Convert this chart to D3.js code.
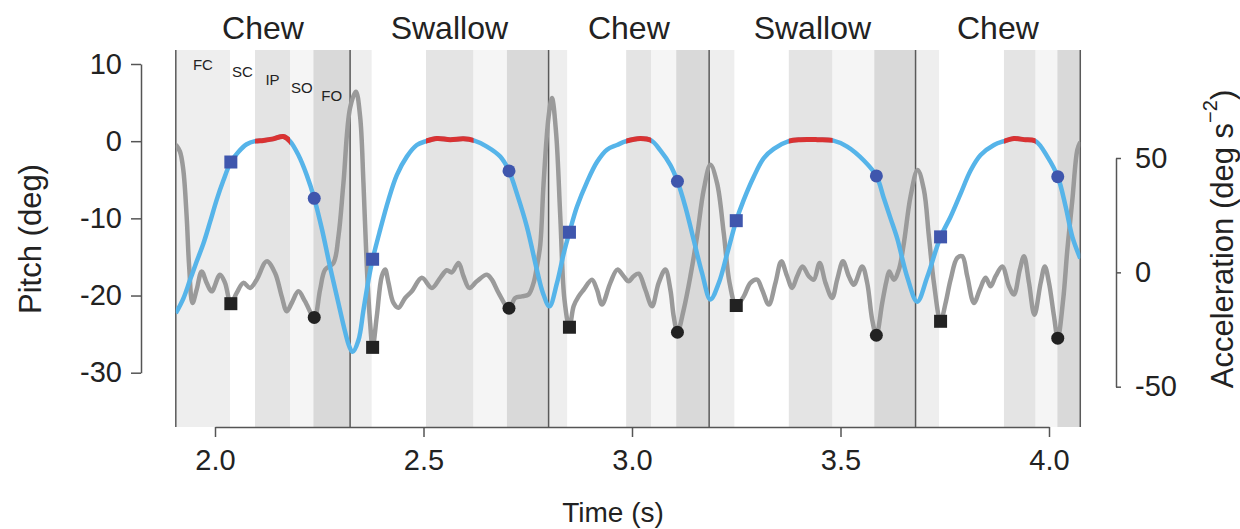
<!DOCTYPE html>
<html>
<head>
<meta charset="utf-8">
<script src="https://cdn.jsdelivr.net/npm/d3@7"></script>
<style>
  body { margin: 0; background: #fff; }
  text { font-family: "Liberation Sans", Arial, Helvetica, sans-serif; fill: #222; }
</style>
</head>
<body>
<div id="chart"></div>
<script>
// ---- data ----
const cycleLabels = ["Chew", "Swallow", "Chew", "Swallow", "Chew"];
const phaseNames = ["FC", "SC", "IP", "SO", "FO"];
// phase boundaries (s) for each cycle: start, FC|SC, SC|IP, IP|SO, SO|FO, end
const phaseBounds = [
  [1.906, 2.036, 2.096, 2.180, 2.236, 2.324],
  [2.324, 2.376, 2.506, 2.620, 2.700, 2.800],
  [2.800, 2.845, 2.986, 3.046, 3.106, 3.185],
  [3.185, 3.246, 3.376, 3.481, 3.581, 3.680],
  [3.680, 3.737, 3.892, 3.968, 4.020, 4.075]
];

const pitchTime = [1.906, 1.924, 1.940, 1.956, 1.972, 1.988, 2.004, 2.020, 2.038, 2.056, 2.076, 2.096, 2.116, 2.140, 2.164, 2.180,
  2.200, 2.220, 2.238, 2.256, 2.276, 2.296, 2.312, 2.322, 2.330, 2.344, 2.356, 2.368, 2.378, 2.396, 2.416, 2.436,
  2.460, 2.484, 2.506, 2.532, 2.564, 2.596, 2.620, 2.652, 2.684, 2.705, 2.724, 2.748, 2.772, 2.786, 2.802, 2.820,
  2.836, 2.850, 2.868, 2.892, 2.916, 2.940, 2.964, 2.986, 3.020, 3.046, 3.068, 3.092, 3.109, 3.128, 3.148, 3.168,
  3.188, 3.208, 3.228, 3.250, 3.268, 3.292, 3.316, 3.340, 3.376, 3.404, 3.444, 3.481, 3.516, 3.556, 3.586, 3.604,
  3.620, 3.636, 3.660, 3.684, 3.708, 3.740, 3.764, 3.788, 3.812, 3.836, 3.868, 3.892, 3.916, 3.940, 3.968, 3.996,
  4.021, 4.040, 4.056, 4.075];
const pitchDeg = [-22.3, -20.4, -18.0, -15.6, -13.3, -10.5, -7.6, -5.1, -2.7, -1.4, -0.4, 0.0, 0.1, 0.3, 0.6, 0.0,
  -1.8, -4.4, -7.4, -11.3, -16.3, -21.0, -24.7, -26.6, -27.3, -25.8, -21.9, -18.0, -15.3, -11.5, -7.6, -4.4,
  -2.0, -0.5, 0.0, 0.35, 0.2, 0.3, 0.1, -0.7, -2.0, -3.85, -6.8, -11.1, -16.7, -19.6, -21.4, -18.4,
  -14.6, -11.8, -8.5, -5.3, -2.7, -1.1, -0.5, 0.0, 0.35, 0.1, -1.2, -3.1, -5.2, -8.5, -12.8, -17.1,
  -20.5, -18.4, -14.6, -10.3, -7.6, -4.6, -2.2, -1.0, 0.0, 0.2, 0.2, 0.1, -0.7, -2.5, -4.5, -7.4,
  -10.0, -12.6, -17.6, -20.8, -17.6, -12.4, -9.8, -6.8, -3.8, -1.8, -0.5, 0.0, 0.35, 0.2, 0.0, -2.0,
  -4.6, -8.5, -12.4, -15.2];

const accelTime = [1.906, 1.916, 1.924, 1.932, 1.938, 1.946, 1.956, 1.968, 1.980, 1.992, 2.012, 2.024, 2.038, 2.052, 2.068, 2.084,
  2.100, 2.124, 2.144, 2.160, 2.172, 2.184, 2.200, 2.216, 2.238, 2.252, 2.264, 2.284, 2.296, 2.308, 2.324, 2.338,
  2.348, 2.356, 2.364, 2.372, 2.378, 2.388, 2.400, 2.408, 2.416, 2.428, 2.440, 2.456, 2.472, 2.496, 2.520, 2.540,
  2.556, 2.568, 2.584, 2.596, 2.610, 2.628, 2.652, 2.664, 2.680, 2.705, 2.720, 2.736, 2.752, 2.764, 2.772, 2.780,
  2.788, 2.800, 2.808, 2.818, 2.828, 2.838, 2.850, 2.860, 2.872, 2.884, 2.904, 2.916, 2.928, 2.948, 2.965, 2.980,
  2.992, 3.004, 3.016, 3.032, 3.048, 3.064, 3.080, 3.092, 3.100, 3.109, 3.124, 3.140, 3.156, 3.172, 3.188, 3.204,
  3.220, 3.234, 3.250, 3.268, 3.284, 3.300, 3.312, 3.328, 3.344, 3.358, 3.372, 3.384, 3.396, 3.409, 3.424, 3.436,
  3.450, 3.464, 3.480, 3.492, 3.506, 3.520, 3.532, 3.552, 3.564, 3.576, 3.586, 3.600, 3.610, 3.617, 3.628, 3.640,
  3.652, 3.668, 3.685, 3.700, 3.712, 3.724, 3.740, 3.752, 3.764, 3.780, 3.792, 3.804, 3.820, 3.834, 3.848, 3.860,
  3.872, 3.888, 3.904, 3.916, 3.930, 3.940, 3.952, 3.965, 3.980, 3.990, 4.000, 4.012, 4.021, 4.034, 4.044, 4.056,
  4.068, 4.075];
const accelVal = [55.8, 52.8, 44.8, 24.5, 2.6, -13.4, -7.6, 0.4, -4.6, -8.3, -1.0, -4.6, -13.7, -9.0, -4.6, -6.8,
  -3.2, 4.8, -0.3, -10.5, -17.0, -13.4, -8.3, -12.7, -19.7, -7.6, 1.2, 4.1, 15.7, 39.0, 72.0, 79.0,
  68.1, 39.0, 2.6, -22.1, -32.8, -19.2, -1.7, 1.2, -4.6, -13.4, -15.5, -11.2, -8.3, -2.4, -6.8, -2.4,
  0.9, 0.0, 4.1, -1.7, -6.8, -3.9, -1.0, -3.2, -9.0, -15.7, -11.2, -10.5, -9.7, -4.6, 2.6, 12.0,
  39.0, 68.1, 76.2, 60.9, 24.5, -11.9, -24.0, -14.8, -10.5, -7.6, -3.2, -7.6, -14.1, -4.6, 1.2, -1.7,
  -3.9, -1.7, -0.6, -7.6, -14.8, -4.6, 1.2, -7.6, -19.2, -26.2, -16.3, -1.7, 15.7, 36.1, 47.0, 39.0,
  17.2, -4.6, -14.5, -10.5, -4.6, -3.2, -7.6, -14.1, -4.6, 4.8, -1.7, -6.8, -1.7, 2.6, -1.7, -3.2,
  4.1, -4.6, -11.2, -3.2, 4.8, -1.7, -5.4, 2.6, -4.6, -20.7, -27.5, -13.4, -4.0, 0.4, -3.2, 1.2,
  12.8, 33.2, 44.8, 36.1, 15.7, -4.6, -21.4, -13.4, -3.2, 6.3, 7.0, -1.7, -13.4, -7.6, -2.4, -6.1,
  -1.7, 2.6, -6.1, -9.7, 1.2, 7.0, -4.6, -18.5, -4.6, 2.6, -4.6, -19.2, -28.8, -11.9, 9.9, 31.7,
  53.6, 57.0];

// events: start of slow close (squares) and start of fast open (circles)
const scTime = [2.038, 2.378, 2.850, 3.250, 3.740];
const scPitch = [-2.7, -15.3, -11.8, -10.3, -12.4];
const scAccel = [-13.7, -32.8, -24.0, -14.5, -21.4];
const foTime = [2.238, 2.705, 3.109, 3.586, 4.021];
const foPitch = [-7.4, -3.85, -5.2, -4.5, -4.6];
const foAccel = [-19.7, -15.7, -26.2, -27.5, -28.8];

const timeTicks = [2.0, 2.5, 3.0, 3.5, 4.0];
const pitchTicks = [10, 0, -10, -20, -30];
const accelTicks = [50, 0, -50];

// ---- layout ----
const width = 1240, height = 529;
const plotTop = 50, plotBottom = 427;
const phaseColors = ["#eeeeee", "#ffffff", "#e4e4e4", "#f5f5f5", "#d9d9d9"];

const svg = d3.select("#chart").append("svg")
  .attr("width", width)
  .attr("height", height);

const x = d3.scaleLinear().domain([2, 4]).range([215, 1049]);
const yP = d3.scaleLinear().domain([-30, 10]).range([372.7, 64]);
const yA = d3.scaleLinear().domain([-50, 50]).range([386.7, 158]);

const tStart = phaseBounds[0][0];
const tEnd = phaseBounds[phaseBounds.length - 1][5];

svg.append("clipPath").attr("id", "plotClip")
  .append("rect")
  .attr("x", x(tStart)).attr("y", plotTop)
  .attr("width", x(tEnd) - x(tStart)).attr("height", plotBottom - plotTop);

// phase bands
const bands = [];
phaseBounds.forEach((b, c) => {
  for (let i = 0; i < 5; i++) bands.push({ c, i, t0: b[i], t1: b[i + 1] });
});
svg.append("g").selectAll("rect").data(bands).enter()
  .append("rect")
  .attr("x", d => x(d.t0))
  .attr("y", plotTop)
  .attr("width", d => x(d.t1) - x(d.t0))
  .attr("height", plotBottom - plotTop)
  .attr("fill", d => phaseColors[d.i]);

// cycle boundary lines
const cycleEdges = phaseBounds.map(b => b[0]).concat([tEnd]);
svg.append("g").selectAll("line").data(cycleEdges).enter()
  .append("line")
  .attr("x1", d => x(d)).attr("x2", d => x(d))
  .attr("y1", plotTop).attr("y2", plotBottom)
  .attr("stroke", "#5a5a5a").attr("stroke-width", 1.5);

// cycle labels
svg.append("g").selectAll("text").data(cycleLabels).enter()
  .append("text")
  .attr("x", (d, i) => (x(phaseBounds[i][0]) + x(phaseBounds[i][5])) / 2)
  .attr("y", 39)
  .attr("text-anchor", "middle")
  .style("font-size", "32px")
  .text(d => d);

// phase labels in first cycle
svg.append("g").selectAll("text").data(phaseNames).enter()
  .append("text")
  .attr("x", (d, i) => (x(phaseBounds[0][i]) + x(phaseBounds[0][i + 1])) / 2)
  .attr("y", (d, i) => 64 + i * 7.9)
  .attr("text-anchor", "middle")
  .attr("dominant-baseline", "central")
  .style("font-size", "15px")
  .text(d => d);

// curves
const pitchData = pitchTime.map((t, i) => [t, pitchDeg[i]]);
const accelData = accelTime.map((t, i) => [t, accelVal[i]]);

const pitchLine = d3.line().x(d => x(d[0])).y(d => yP(d[1])).curve(d3.curveCatmullRom.alpha(0.5));
const accelLine = d3.line().x(d => x(d[0])).y(d => yA(d[1])).curve(d3.curveCatmullRom.alpha(0.5));

const curves = svg.append("g").attr("clip-path", "url(#plotClip)");

curves.append("path")
  .datum(accelData)
  .attr("d", accelLine)
  .attr("fill", "none")
  .attr("stroke", "#9a9a9a")
  .attr("stroke-width", 4.5)
  .attr("stroke-linejoin", "round");

curves.append("path")
  .datum(pitchData)
  .attr("d", pitchLine)
  .attr("fill", "none")
  .attr("stroke", "#56b4e9")
  .attr("stroke-width", 4.5)
  .attr("stroke-linejoin", "round");

// red part of pitch: intercuspal phase
const ipClip = svg.append("clipPath").attr("id", "ipClip");
ipClip.selectAll("rect").data(phaseBounds).enter()
  .append("rect")
  .attr("x", b => x(b[2]))
  .attr("y", plotTop)
  .attr("width", b => x(b[3]) - x(b[2]))
  .attr("height", plotBottom - plotTop);

svg.append("path")
  .datum(pitchData)
  .attr("clip-path", "url(#ipClip)")
  .attr("d", pitchLine)
  .attr("fill", "none")
  .attr("stroke", "#d93232")
  .attr("stroke-width", 5)
  .attr("stroke-linecap", "round");

// markers
const sq = 13;
const markers = svg.append("g");
markers.selectAll(".bsq").data(scTime).enter()
  .append("rect")
  .attr("x", (d, i) => x(d) - sq / 2)
  .attr("y", (d, i) => yP(scPitch[i]) - sq / 2)
  .attr("width", sq).attr("height", sq)
  .attr("fill", "#3f56ad");
markers.selectAll(".bci").data(foTime).enter()
  .append("circle")
  .attr("cx", d => x(d))
  .attr("cy", (d, i) => yP(foPitch[i]))
  .attr("r", 6.5)
  .attr("fill", "#3f56ad");
markers.selectAll(".ksq").data(scTime).enter()
  .append("rect")
  .attr("x", d => x(d) - sq / 2)
  .attr("y", (d, i) => yA(scAccel[i]) - sq / 2)
  .attr("width", sq).attr("height", sq)
  .attr("fill", "#222");
markers.selectAll(".kci").data(foTime).enter()
  .append("circle")
  .attr("cx", d => x(d))
  .attr("cy", (d, i) => yA(foAccel[i]))
  .attr("r", 6.5)
  .attr("fill", "#222");

// axes
function styleAxis(g) {
  g.selectAll("path, line").attr("stroke", "#555").attr("stroke-width", 1.5);
  g.selectAll("text").style("font-size", "29px").attr("fill", "#222")
    .style("font-family", "'Liberation Sans', Arial, Helvetica, sans-serif");
}

svg.append("g")
  .attr("transform", "translate(141,0)")
  .call(d3.axisLeft(yP).tickValues(pitchTicks).tickSize(10).tickSizeOuter(0).tickPadding(9).tickFormat(d => String(d)))
  .call(styleAxis);

svg.append("g")
  .attr("transform", "translate(1116,0)")
  .call(d3.axisRight(yA).tickValues(accelTicks).tickSize(5).tickSizeOuter(0).tickPadding(14).tickFormat(d => String(d)))
  .call(styleAxis);

svg.append("g")
  .attr("transform", `translate(0,${plotBottom})`)
  .call(d3.axisBottom(x).tickValues(timeTicks).tickSize(10).tickSizeOuter(0).tickPadding(12).tickFormat(d3.format(".1f")))
  .call(styleAxis);

// axis titles
svg.append("text")
  .attr("transform", "translate(30,239) rotate(-90)")
  .attr("text-anchor", "middle")
  .attr("dominant-baseline", "central")
  .style("font-size", "31px")
  .text("Pitch (deg)");

const accTitle = svg.append("text")
  .attr("transform", "translate(1222,239) rotate(-90)")
  .attr("text-anchor", "middle")
  .attr("dominant-baseline", "central")
  .style("font-size", "31px");
accTitle.append("tspan").text("Acceleration (deg s");
accTitle.append("tspan").attr("dy", -12).style("font-size", "20px").text("\u22122");
accTitle.append("tspan").attr("dy", 12).text(")");

svg.append("text")
  .attr("x", 613)
  .attr("y", 512)
  .attr("text-anchor", "middle")
  .attr("dominant-baseline", "central")
  .style("font-size", "28px")
  .text("Time (s)");
</script>
</body>
</html>
